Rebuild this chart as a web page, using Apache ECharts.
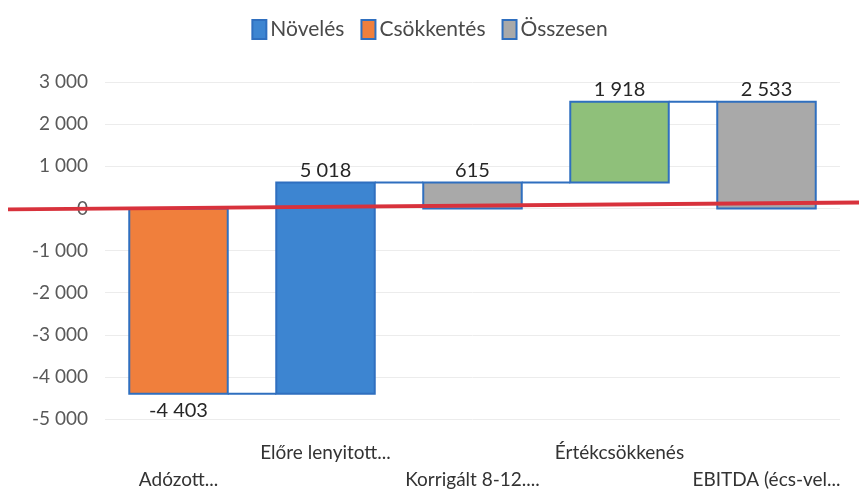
<!DOCTYPE html>
<html>
<head>
<meta charset="utf-8">
<script src="https://cdn.jsdelivr.net/npm/echarts@6/dist/echarts.min.js"></script>
<style>
  html, body { margin: 0; padding: 0; background: #fff; }
  #chart { width: 859px; height: 493px; }
</style>
</head>
<body>
<div id="chart"></div>
<script>
// categories and values
var categories = ['Adózott...', 'Előre lenyitott...', 'Korrigált 8-12....', 'Értékcsökkenés', 'EBITDA (écs-vel...'];
var values = [-4403, 5018, 615, 1918, 2533];
var kinds = ['dec', 'inc', 'total', 'inc', 'total'];
var yTicks = [-5000, -4000, -3000, -2000, -1000, 0, 1000, 2000, 3000];

var seriesNames = { inc: 'Növelés', dec: 'Csökkentés', total: 'Összesen' };
var colors = { inc: '#3d85d1', dec: '#f07f3c', total: '#a9a9a9' };
var borderBlue = '#2f6fbf';
var font = 'Lato, "Noto Sans", sans-serif';

function fmt(v) {
  var s = String(Math.abs(v)).replace(/\B(?=(\d{3})+(?!\d))/g, ' ');
  return (v < 0 ? '-' : '') + s;
}

// running start / end of every bar
var spans = [];
var run = 0;
for (var i = 0; i < values.length; i++) {
  if (kinds[i] === 'total') {
    spans.push([0, values[i]]);
    run = values[i];
  } else {
    spans.push([run, run + values[i]]);
    run = run + values[i];
  }
}

function barItems(kind) {
  var out = [];
  for (var i = 0; i < values.length; i++) {
    if (kinds[i] !== kind) continue;
    var item = { value: [i, spans[i][0], spans[i][1], values[i]] };
    if (i === 3) item.itemStyle = { color: '#8fc07a' };  // the green bar
    out.push(item);
  }
  return out;
}

function renderBar(params, api) {
  var idx = api.value(0);
  var a = api.coord([idx, api.value(1)]);
  var b = api.coord([idx, api.value(2)]);
  var w = api.size([1, 0])[0] * 0.67;
  var top = Math.min(a[1], b[1]);
  var h = Math.abs(a[1] - b[1]);
  var v = api.value(3);
  var labelY = v < 0 ? Math.max(a[1], b[1]) + 7 : top - 2;
  return {
    type: 'group',
    children: [{
      type: 'rect',
      shape: { x: a[0] - w / 2, y: top, width: w, height: h },
      style: { fill: api.visual('color'), stroke: borderBlue, lineWidth: 2 }
    }, {
      type: 'text',
      x: a[0], y: labelY,
      style: {
        text: fmt(v), fill: '#262626', font: '20px ' + font,
        align: 'center', verticalAlign: v < 0 ? 'top' : 'bottom'
      }
    }]
  };
}

function renderLink(params, api) {
  var idx = api.value(0);
  var w = api.size([1, 0])[0] * 0.67;
  var p1 = api.coord([idx, api.value(1)]);
  var p2 = api.coord([idx + 1, api.value(1)]);
  return {
    type: 'line',
    shape: { x1: p1[0] + w / 2, y1: p1[1], x2: p2[0] - w / 2, y2: p2[1] },
    style: { stroke: borderBlue, lineWidth: 2 }
  };
}

var links = [];
for (var j = 0; j < spans.length - 1; j++) links.push([j, spans[j][1]]);

var series = ['inc', 'dec', 'total'].map(function (k) {
  return {
    name: seriesNames[k],
    type: 'custom',
    renderItem: renderBar,
    itemStyle: { color: colors[k], borderColor: borderBlue, borderWidth: 2 },
    encode: { x: 0, y: [1, 2] },
    data: barItems(k),
    z: 3
  };
});
series.push({
  type: 'custom',
  renderItem: renderLink,
  encode: { x: 0, y: 1 },
  data: links,
  silent: true,
  z: 2
});

var chart = echarts.init(document.getElementById('chart'));
chart.setOption({
  animation: false,
  legend: {
    data: ['Növelés', 'Csökkentés', 'Összesen'],
    top: 14,
    left: 'center',
    icon: 'rect',
    itemWidth: 14,
    itemHeight: 19,
    itemGap: 16,
    textStyle: { fontFamily: font, fontSize: 21, color: '#4a4a4a', padding: [0, 0, 0, -1] }
  },
  grid: { left: 105, right: 19, top: 82, bottom: 72 },
  xAxis: {
    type: 'category',
    data: categories,
    axisLine: { show: false },
    axisTick: { show: false },
    axisLabel: {
      interval: 0,
      margin: 20,
      lineHeight: 27,
      fontFamily: font,
      fontSize: 19,
      color: '#333333',
      formatter: function (v, i) { return i % 2 === 0 ? '\n' + v : v; }
    }
  },
  yAxis: {
    type: 'value',
    min: yTicks[0],
    max: yTicks[yTicks.length - 1],
    interval: 1000,
    axisLine: { show: false },
    axisTick: { show: false },
    splitLine: { lineStyle: { color: '#ececec', width: 1 } },
    axisLabel: {
      margin: 17,
      padding: [4, 0, 0, 0],
      fontFamily: font,
      fontSize: 19,
      color: '#595959',
      formatter: fmt
    }
  },
  series: series
});

// hand drawn red line along zero
var y0 = chart.convertToPixel({ yAxisIndex: 0 }, 0);
chart.setOption({
  graphic: [{
    type: 'line',
    shape: { x1: 8, y1: y0 + 1, x2: 859, y2: y0 - 6 },
    style: { stroke: '#d8323c', lineWidth: 4 },
    z: 100
  }]
});
</script>
</body>
</html>
